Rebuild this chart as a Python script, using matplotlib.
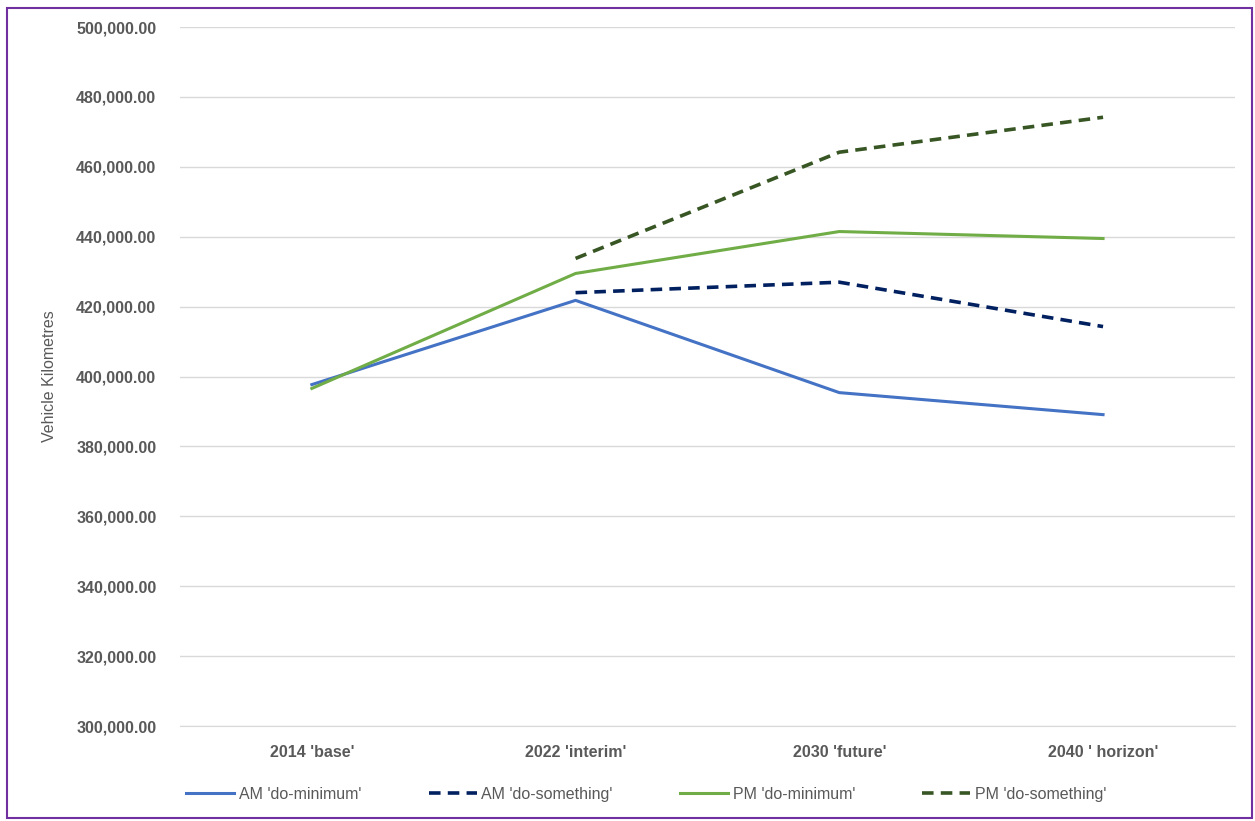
import matplotlib.pyplot as plt
from matplotlib.patches import Rectangle
from matplotlib.ticker import FuncFormatter

years = ["2014 'base'", "2022 'interim'", "2030 'future'", "2040 ' horizon'"]
am_min = [397700, 421800, 395400, 389100]
am_some = [None, 424000, 427000, 414300]
pm_min = [396600, 429500, 441500, 439500]
pm_some = [None, 433800, 464200, 474200]

plt.rcParams['font.family'] = ['Liberation Sans', 'DejaVu Sans']
grey = "#595959"

fig = plt.figure(figsize=(12.55, 8.21), dpi=100)
ax = fig.add_axes([0.1434, 0.1157, 0.8406, 0.8513])

x = range(len(years))
def pts(vals):
    xs = [i for i, v in zip(x, vals) if v is not None]
    ys = [v for v in vals if v is not None]
    return xs, ys

ax.plot(*pts(am_min), color="#4472C4", lw=2.2, label="AM 'do-minimum'")
ax.plot(*pts(am_some), color="#002060", lw=2.6, dashes=(3.2, 2), label="AM 'do-something'")
ax.plot(*pts(pm_min), color="#70AD47", lw=2.2, label="PM 'do-minimum'")
ax.plot(*pts(pm_some), color="#375623", lw=2.6, dashes=(3.2, 2), label="PM 'do-something'")

ax.set_xlim(-0.5, 3.5)
ax.set_ylim(300000, 500000)
ax.set_yticks(range(300000, 500001, 20000))
ax.yaxis.set_major_formatter(FuncFormatter(lambda v, p: f"{v:,.2f}"))
ax.set_xticks(list(x))
ax.set_xticklabels(years)
ax.grid(axis="y", color="#d9d9d9", lw=1)
ax.set_axisbelow(True)
for s in ax.spines.values():
    s.set_visible(False)
ax.spines["bottom"].set_visible(True)
ax.spines["bottom"].set_color("#d9d9d9")
ax.tick_params(length=0, labelsize=11.5, labelcolor=grey)
for t in ax.get_xticklabels() + ax.get_yticklabels():
    t.set_fontweight("bold")
ax.tick_params(axis="x", pad=14)
ax.tick_params(axis="y", pad=17)
ax.set_ylabel("Vehicle Kilometres", fontsize=11.5, color=grey, labelpad=14)

ax.legend(loc="center", bbox_to_anchor=(0.442, -0.098), ncol=4, frameon=False,
          fontsize=11.5, labelcolor=grey, handlelength=3, columnspacing=4.2,
          handletextpad=0.3)

fig.patches.append(Rectangle((7 / 1255, 3 / 821), 1245 / 1255, 810 / 821,
                             transform=fig.transFigure, fill=False,
                             edgecolor="#7030A0", lw=1.5))

fig.savefig("out.png", dpi=100)
